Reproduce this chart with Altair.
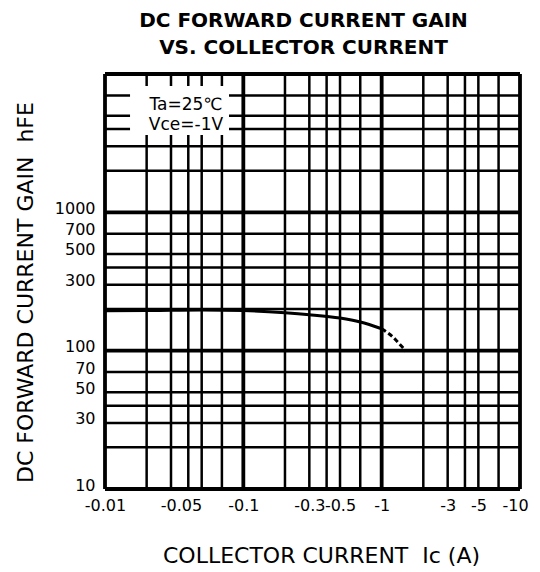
import altair as alt
import pandas as pd

# ---- data ----
ic_solid = [0.01, 0.02, 0.03, 0.05, 0.1, 0.2, 0.3, 0.5, 0.7, 1.0]
hfe_solid = [194, 195, 196, 197, 195, 188, 182, 172, 161, 144]
ic_dash = [1.0, 1.2, 1.4, 1.5]
hfe_dash = [144, 126, 107, 99]

x_grid = [0.01, 0.02, 0.03, 0.04, 0.05, 0.07,
          0.1, 0.2, 0.3, 0.4, 0.5, 0.7,
          1, 2, 3, 4, 5, 7, 10]
y_grid = [10, 20, 30, 40, 50, 70,
          100, 200, 300, 400, 500, 700,
          1000, 2000, 3000, 4000, 5000, 7000, 10000]
x_ticks = [0.01, 0.05, 0.1, 0.3, 0.5, 1, 3, 5, 10]
y_ticks = [10, 30, 50, 70, 100, 300, 500, 700, 1000]
decades = [0.01, 0.1, 1, 10, 100, 1000, 10000]

note_lines = ["Ta=25\u2103", "Vce=-1V"]
note_ic = [0.0385, 0.0385]
note_hfe = [5493, 3936]
box = {"x": [0.01517], "x2": [0.0788], "y": [3620], "y2": [8190]}

FONT = "DejaVu Sans"

xs = alt.Scale(type="log", domain=[0.01, 10], nice=False)
ys = alt.Scale(type="log", domain=[10, 10000], nice=False)

solid_df = pd.DataFrame({"ic": ic_solid, "hfe": hfe_solid})
dash_df = pd.DataFrame({"ic": ic_dash, "hfe": hfe_dash})
xg_df = pd.DataFrame({"ic": x_grid,
                      "w": [3.8 if v in decades else 2.5 for v in x_grid]})
yg_df = pd.DataFrame({"hfe": y_grid,
                      "w": [3.8 if v in decades else 2.5 for v in y_grid]})
note_df = pd.DataFrame({"ic": note_ic, "hfe": note_hfe, "t": note_lines})
box_df = pd.DataFrame({"ic": box["x"], "ic2": box["x2"],
                       "hfe": box["y"], "hfe2": box["y2"]})

x_axis = alt.Axis(
    values=x_ticks, labelExpr="'-' + datum.value", grid=False, ticks=False,
    domain=False, labelFont=FONT, labelFontSize=16, labelColor="black",
    labelPadding=8, labelBaseline="top",
    labelAlign={"condition": {"test": "datum.value == 0.05", "value": "right"},
                "value": "center"},
    labelOffset={"condition": {"test": "datum.value == 10", "value": -5},
                 "value": 0},
    labelFlush=False, labelOverlap=False,
    title="COLLECTOR CURRENT\u00a0\u00a0Ic (A)", titleFont=FONT, titleFontSize=22,
    titleFontWeight="normal", titleColor="black", titleX=216, titleY=73,
    titleBaseline="alphabetic", titleAlign="center",
)
y_axis = alt.Axis(
    values=y_ticks, format="d", grid=False, ticks=False, domain=False,
    labelFont=FONT, labelFontSize=16, labelColor="black", labelPadding=10,
    labelBaseline="middle", labelOffset=-4, labelFlush=False, labelOverlap=False,
    title="DC FORWARD CURRENT GAIN\u00a0\u00a0hFE", titleFont=FONT, titleFontSize=22,
    titleFontWeight="normal", titleColor="black", titleX=-73, titleY=218,
    titleBaseline="alphabetic", titleAlign="center", titleAngle=-90,
)

X = alt.X("ic:Q", scale=xs, axis=x_axis)
Y = alt.Y("hfe:Q", scale=ys, axis=y_axis)

vgrid = alt.Chart(xg_df).mark_rule(color="black").encode(
    x=X,
    strokeWidth=alt.StrokeWidth("w:Q", scale=None),
)
hgrid = alt.Chart(yg_df).mark_rule(color="black").encode(
    y=Y,
    strokeWidth=alt.StrokeWidth("w:Q", scale=None),
)
whitebox = alt.Chart(box_df).mark_rect(color="white").encode(
    x=X, x2="ic2:Q", y=Y, y2="hfe2:Q",
)
note = alt.Chart(note_df).mark_text(
    font=FONT, fontSize=17, color="black", baseline="alphabetic", align="center"
).encode(x=X, y=Y, text="t:N")

solid = alt.Chart(solid_df).mark_line(
    color="black", strokeWidth=3, interpolate="monotone"
).encode(x=X, y=Y)
dashed = alt.Chart(dash_df).mark_line(
    color="black", strokeWidth=3, strokeDash=[5, 3], interpolate="monotone"
).encode(x=X, y=Y)

chart = alt.layer(vgrid, hgrid, whitebox, note, solid, dashed).properties(
    width=415, height=415,
    title=alt.TitleParams(
        ["DC FORWARD CURRENT GAIN", "VS. COLLECTOR CURRENT"],
        font=FONT, fontSize=20, fontWeight="bold", color="black",
        lineHeight=27, anchor="middle", dx=-9, dy=23, offset=21,
        baseline="alphabetic",
    ),
    autosize=alt.AutoSizeParams(type="none"),
    padding={"left": 97, "top": 66, "right": 12, "bottom": 83},
).configure_view(stroke=None).configure(background="white")

chart.save("out.html", embed_options={"renderer": "svg", "actions": False})
